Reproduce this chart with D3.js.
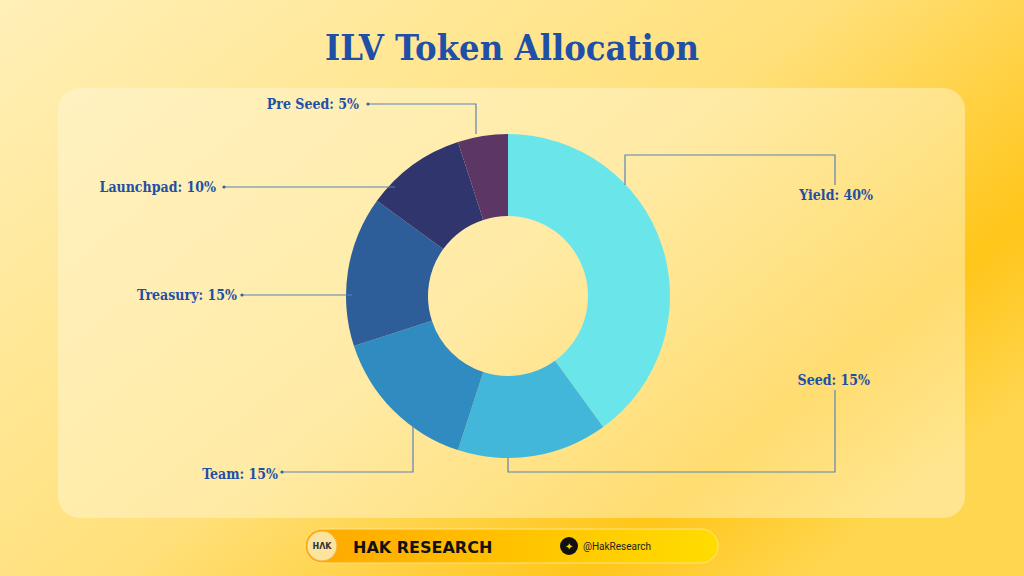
<!DOCTYPE html><html><head><meta charset="utf-8"><script src="https://cdn.jsdelivr.net/npm/d3@7"></script>
<style>body{margin:0}svg{display:block}</style></head><body><svg id="c" width="1024" height="576"></svg>
<script>
const categories=["Yield","Seed","Team","Treasury","Launchpad","Pre Seed"];
const values=[40,15,15,15,10,5];
const colors=["#6ae6ea","#42b7d9","#2f8bc0","#2e5e99","#31356e","#5c3766"];
const svg=d3.select("#c");
const defs=svg.append("defs");
const g1=defs.append("linearGradient").attr("id","bg").attr("x1","0").attr("y1","0").attr("x2","1").attr("y2","0.7");
g1.append("stop").attr("offset","0").attr("stop-color","#fff0b8");
g1.append("stop").attr("offset","0.55").attr("stop-color","#ffe07a");
g1.append("stop").attr("offset","0.85").attr("stop-color","#ffc61a");
g1.append("stop").attr("offset","1").attr("stop-color","#ffd650");
svg.append("rect").attr("width",1024).attr("height",576).attr("fill","url(#bg)");
svg.append("rect").attr("x",58).attr("y",88).attr("width",907).attr("height",430).attr("rx",22).attr("fill","#fff8dc").attr("opacity",0.45);
svg.append("text").attr("x",512).attr("y",60).attr("text-anchor","middle").attr("font-family","DejaVu Serif Condensed, Liberation Serif, serif").attr("font-weight","bold").attr("font-size",36).attr("fill","#1f4fa6").text("ILV Token Allocation");
const cx=508,cy=296,R=162,r=80;
const pie=d3.pie().sort(null)(values);
const arc=d3.arc().innerRadius(r).outerRadius(R);
const gp=svg.append("g").attr("transform",`translate(${cx},${cy})`);
gp.selectAll("path").data(pie).join("path").attr("d",arc).attr("fill",(d,i)=>colors[i]);
const lines=[
 [[625,185],[625,155],[835,155],[835,185]],
 [[508,458],[508,472],[835,472],[835,390]],
 [[413,425],[413,472],[282,472]],
 [[352,295],[242,295]],
 [[395,187],[224,187]],
 [[476,134],[476,104],[368,104]]];
const labels=[[873,200,"end"],[870,385,"end"],[278,479,"end"],[237,300,"end"],[216,192,"end"],[359,109,"end"]];
const lg=d3.line().curve(d3.curveLinear);
lines.forEach((p,i)=>{svg.append("path").attr("d",lg(p)).attr("fill","none").attr("stroke","#5b82b8").attr("stroke-width",1.2);
 const e=p[p.length-1]; if(i>1)svg.append("circle").attr("cx",e[0]).attr("cy",e[1]).attr("r",1.6).attr("fill","#3a5fa0");});
labels.forEach((l,i)=>svg.append("text").attr("x",l[0]).attr("y",l[1]).attr("text-anchor",l[2]).attr("font-family","DejaVu Serif Condensed, Liberation Serif, serif").attr("font-weight","bold").attr("font-size",14).attr("fill","#1f4fa6").text(`${categories[i]}: ${values[i]}%`));
// footer
const g2=defs.append("linearGradient").attr("id","ft");
g2.append("stop").attr("offset","0").attr("stop-color","#ffa800");g2.append("stop").attr("offset","1").attr("stop-color","#ffdc00");
svg.append("rect").attr("x",305).attr("y",529).attr("width",413).attr("height",34).attr("rx",17).attr("fill","url(#ft)").attr("stroke","#ffe58a");
svg.append("circle").attr("cx",322).attr("cy",546).attr("r",15).attr("fill","#fde3a0").attr("stroke","#f3b640");
svg.append("text").attr("x",322).attr("y",549).attr("text-anchor","middle").attr("font-family","DejaVu Sans").attr("font-weight","bold").attr("font-size",8).attr("fill","#333").text("HΛK");
svg.append("text").attr("x",353).attr("y",553).attr("font-family","DejaVu Sans").attr("font-weight","bold").attr("font-size",16).attr("fill","#111").text("HAK RESEARCH");
svg.append("circle").attr("cx",569).attr("cy",546).attr("r",9).attr("fill","#111");
svg.append("text").attr("x",569).attr("y",550).attr("text-anchor","middle").attr("font-size",10).attr("fill","#ffd000").text("✦");
svg.append("text").attr("x",583).attr("y",550).attr("font-family","Roboto").attr("font-size",10).attr("fill","#222").text("@HakResearch");
</script></body></html>
